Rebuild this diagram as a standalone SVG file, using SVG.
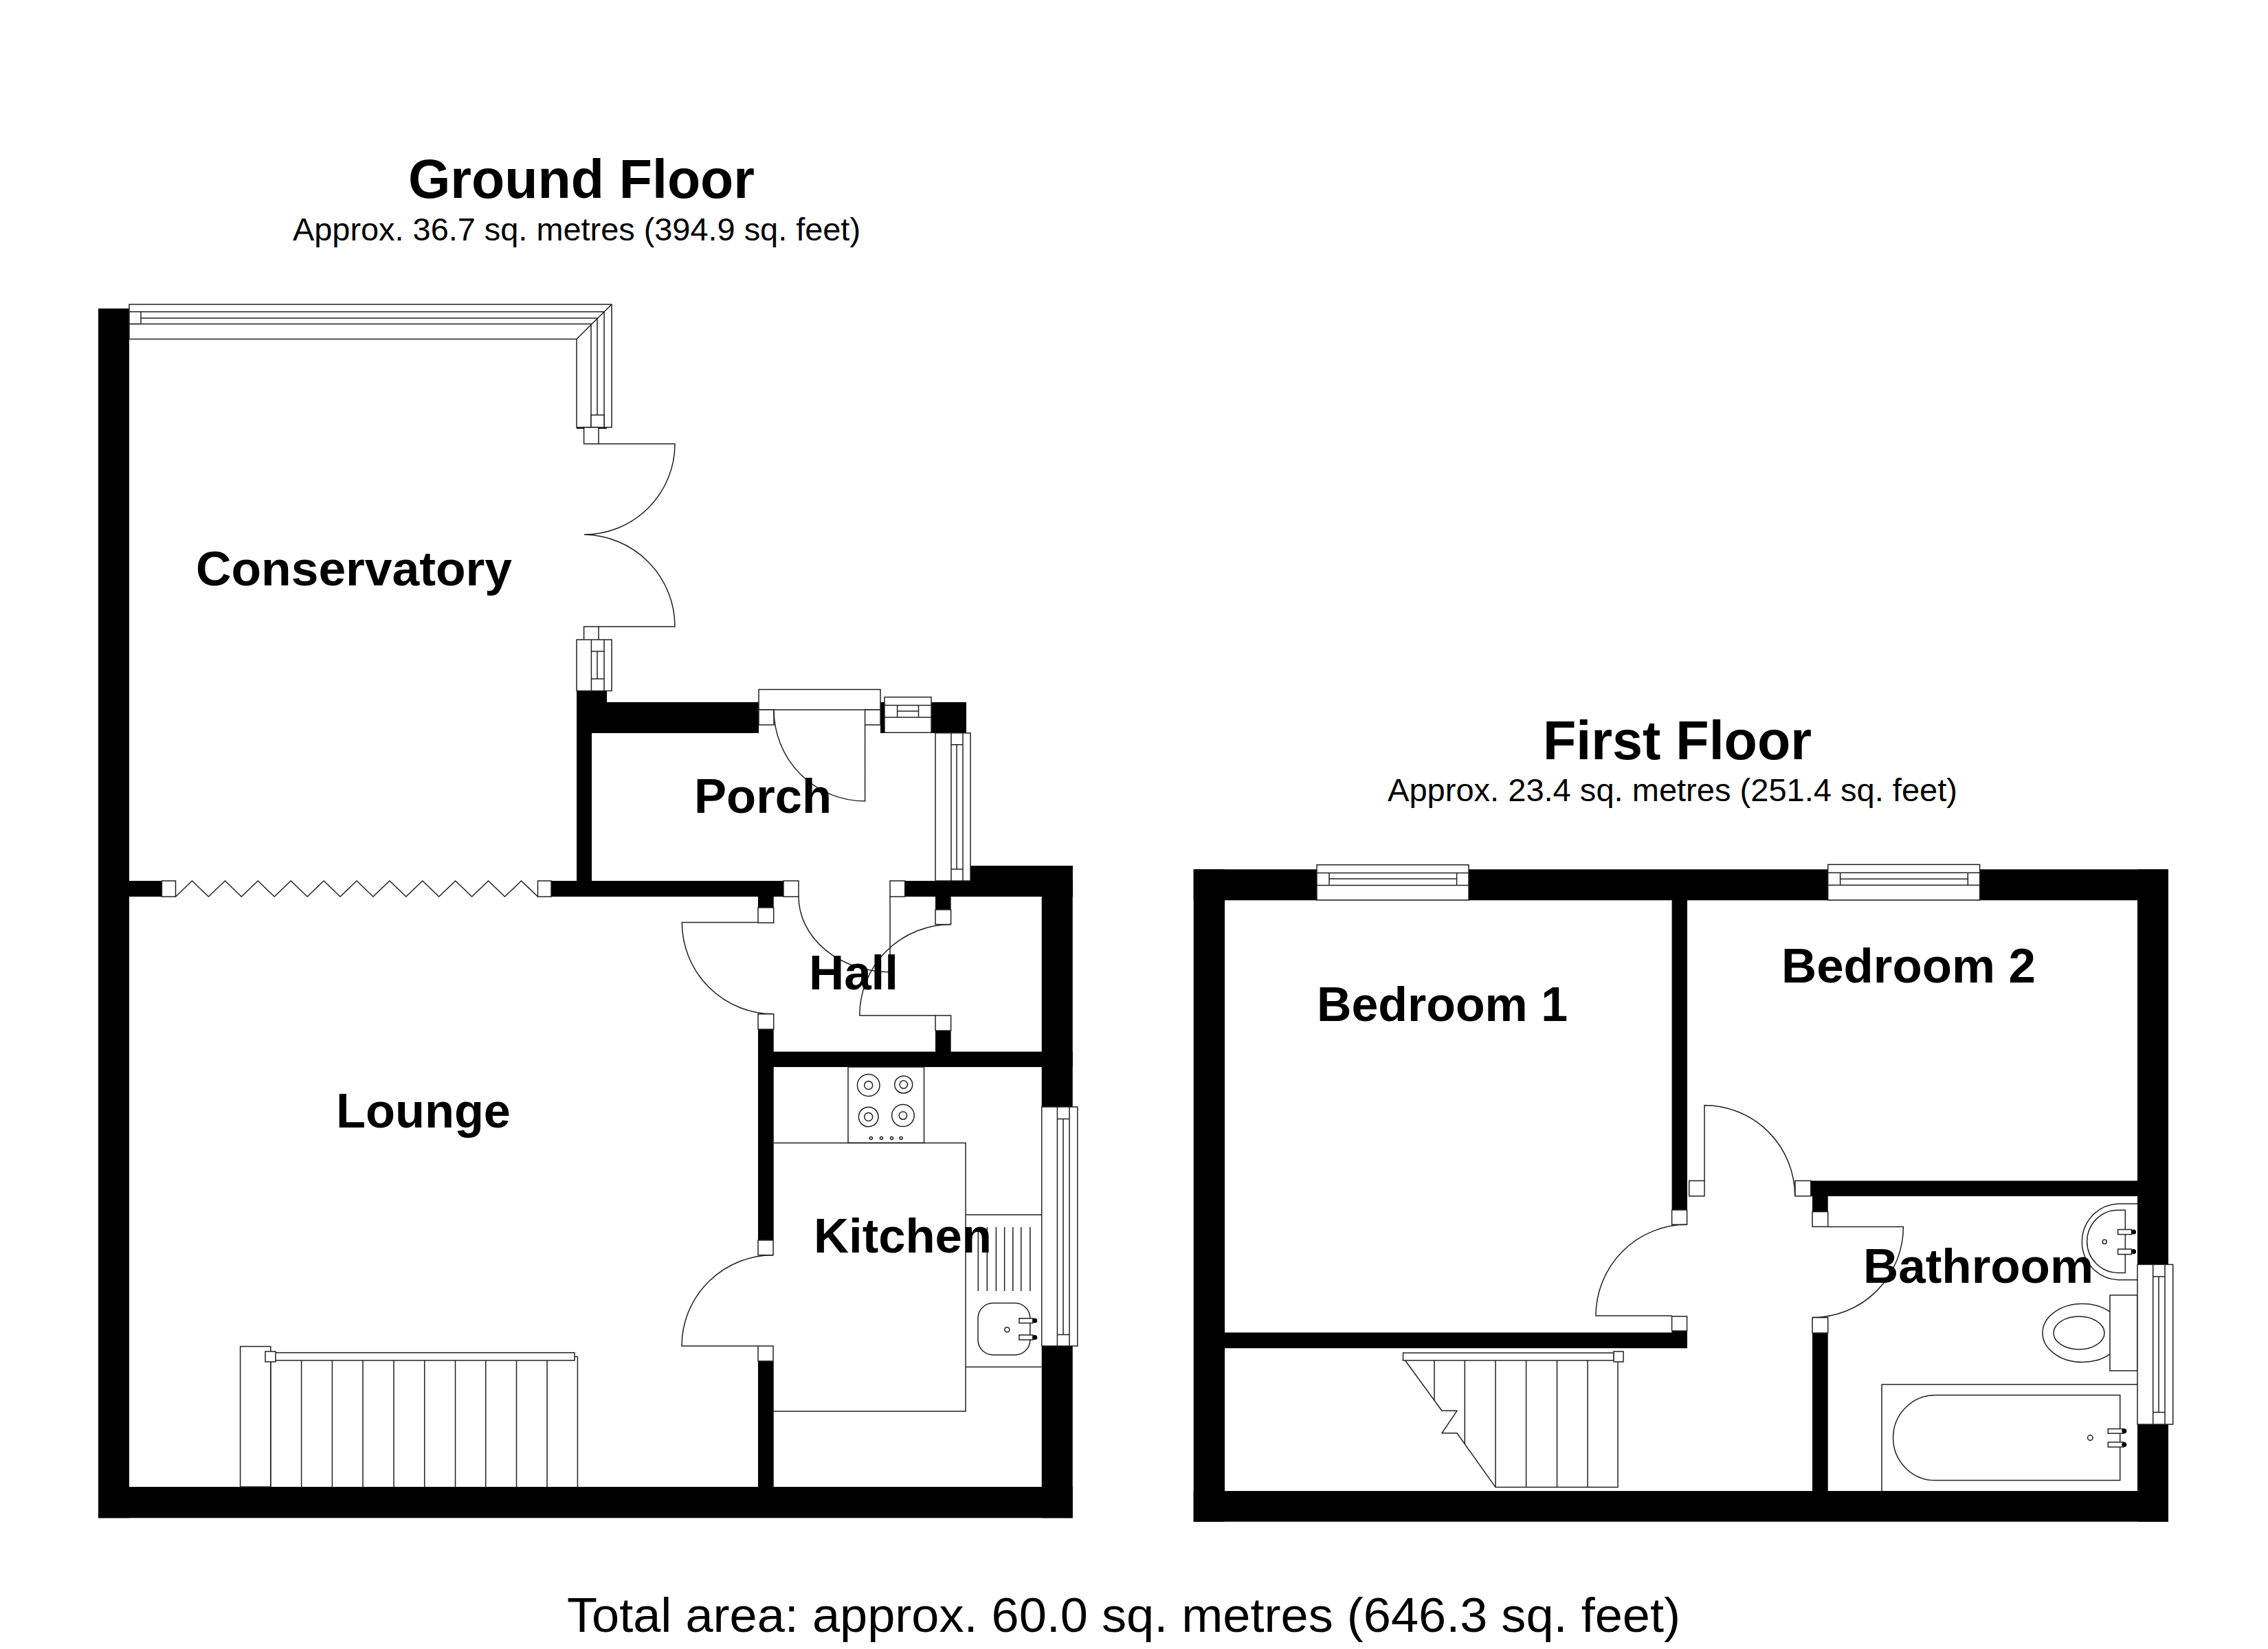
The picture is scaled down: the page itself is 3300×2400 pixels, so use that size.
<svg xmlns="http://www.w3.org/2000/svg" width="3300" height="2400" viewBox="0 0 3300 2400">
<style>
.w{fill:#000}
.l{fill:none;stroke:#222;stroke-width:1.5}
.f{fill:#fff;stroke:#222;stroke-width:1.5}
.d{fill:#000}
text{fill:#000;font-family:"Liberation Sans",Arial,sans-serif}
.r{font-size:70px;font-weight:700}
.t{font-size:79px;font-weight:700}
.s{font-size:46px}
.a{font-size:70px}
</style>
<rect width="3300" height="2400" fill="#fff"/>
<g id="ground-walls">
<rect class="w" x="143" y="449" width="45" height="1760.3"/>
<rect class="w" x="143" y="2164" width="1417.7" height="45.3"/>
<rect class="w" x="188" y="1282" width="47.4" height="23"/>
<rect class="w" x="802" y="1282" width="338" height="23"/>
<rect class="w" x="1316.6" y="1282" width="244.1" height="23"/>
<rect class="w" x="1412" y="1260" width="148.7" height="45"/>
<rect class="w" x="1515.7" y="1260" width="45" height="351"/>
<rect class="w" x="1515.7" y="1959" width="45" height="250.3"/>
<rect class="w" x="839" y="1005" width="22" height="300"/>
<rect class="w" x="839" y="1005" width="44" height="20"/>
<rect class="w" x="839" y="622" width="44" height="2"/>
<rect class="w" x="839" y="1022" width="265" height="45"/>
<rect class="w" x="1281" y="1022" width="6" height="45"/>
<rect class="w" x="1355" y="1022" width="51" height="45"/>
<rect class="w" x="1103" y="1305" width="22.7" height="16"/>
<rect class="w" x="1361" y="1305" width="22.6" height="19"/>
<rect class="w" x="1361" y="1500" width="22.6" height="31"/>
<rect class="w" x="1103" y="1530.6" width="457.7" height="22.4"/>
<rect class="w" x="1103" y="1498" width="22.7" height="307"/>
<rect class="w" x="1103" y="1981" width="22.7" height="183"/>
</g>
<g id="conservatory">
<path class="f" d="M188,443H890V622H839V493.5H188Z"/>
<path class="l" d="M890,443L839,493.5M188,453.7H879V622M188,463H869V604M188,471.4H860V622"/>
<rect class="f" x="188" y="453.7" width="17" height="17.7"/>
<rect class="f" x="860" y="604" width="19" height="18"/>
<rect class="f" x="849.6" y="622" width="21.4" height="24"/>
<path class="l" d="M871,646H982A132,132 0 0 1 850,778A134,134 0 0 1 982,912H871"/>
<rect class="f" x="849.6" y="912" width="21.4" height="21"/>
<rect class="f" x="839" y="931" width="51" height="74.5"/>
<path class="l" d="M860.4,931V1005.5M879,931V1005.5M860.4,948H879M860.4,988H879M869,948V988"/>
<rect class="f" x="235.4" y="1282" width="20.1" height="23"/>
<rect class="f" x="782.5" y="1282" width="19.5" height="23"/>
<path class="l" d="M255.5,1305L279.5,1282L303.4,1305L327.4,1282L351.3,1305L375.3,1282L399.2,1305L423.2,1282L447.1,1305L471.1,1282L495,1305L519,1282L542.9,1305L566.9,1282L590.8,1305L614.8,1282L638.7,1305L662.7,1282L686.6,1305L710.6,1282L734.5,1305L758.5,1282L782.5,1305"/>
<text class="r" x="285" y="852" textLength="460" lengthAdjust="spacingAndGlyphs">Conservatory</text>
</g>
<g id="porch">
<rect class="f" x="1104" y="1003.5" width="177" height="29.5"/>
<rect class="f" x="1104" y="1033" width="22" height="22"/>
<rect class="f" x="1258.6" y="1033" width="22.4" height="22"/>
<path class="l" d="M1126,1033A132.6,133 0 0 0 1258.6,1166V1055"/>
<rect class="f" x="1287" y="1014.6" width="68" height="51.6"/>
<path class="l" d="M1287,1026.4H1355M1287,1044H1355M1305.6,1026.4V1044M1336.5,1026.4V1044M1305.6,1035H1336.5"/>
<rect class="f" x="1361" y="1066.8" width="51" height="215.2"/>
<path class="l" d="M1384,1066.8V1282M1401,1066.8V1282M1392,1083.8V1265M1384,1083.8H1401M1384,1265H1401"/>
<text class="r" x="1010" y="1183" textLength="200" lengthAdjust="spacingAndGlyphs">Porch</text>
</g>
<g id="hall">
<rect class="f" x="1140" y="1282" width="22" height="23"/>
<rect class="f" x="1295" y="1282" width="21.6" height="23"/>
<path class="l" d="M1162,1305A133,110 0 0 0 1295,1414.7V1305"/>
<rect class="f" x="1103" y="1321" width="22.7" height="22"/>
<path class="l" d="M1103,1342.4H992.3A133.4,133.4 0 0 0 1125.7,1475.8"/>
<rect class="f" x="1103" y="1475.8" width="22.7" height="22.2"/>
<rect class="f" x="1361" y="1324" width="22.6" height="21.5"/>
<path class="l" d="M1383.6,1345.5A132.9,132.5 0 0 0 1250.7,1478H1361"/>
<rect class="f" x="1361" y="1478" width="22.6" height="22"/>
<text class="r" x="1177" y="1440" textLength="130" lengthAdjust="spacingAndGlyphs">Hall</text>
</g>
<g id="lounge">
<rect class="f" x="349.6" y="1959.6" width="44.2" height="204.4"/>
<path class="l" d="M393.8,1980V2164M438.6,1980V2164M483.4,1980V2164M528,1980V2164M573,1980V2164M617.7,1980V2164M662.5,1980V2164M706.7,1980V2164M751.5,1980V2164M796,1980V2164M840.4,1974.5V2164M836,1974.5H840.4"/>
<rect class="f" x="393.8" y="1968.7" width="442.2" height="11.3"/>
<rect class="f" x="386" y="1967" width="15" height="15"/>
<text class="r" x="489" y="1640.5" textLength="254" lengthAdjust="spacingAndGlyphs">Lounge</text>
</g>
<g id="kitchen">
<rect class="f" x="1103" y="1805" width="22" height="21.7"/>
<path class="l" d="M1125,1826.7A133,132.3 0 0 0 992,1959H1103"/>
<rect class="f" x="1103" y="1959" width="22" height="22"/>
<path class="l" d="M1125.7,1663.4H1405V2054H1125.7"/>
<rect class="l" x="1234" y="1553" width="110.5" height="110.4"/>
<ellipse class="l" cx="1263.7" cy="1579.5" rx="16.3" ry="16"/>
<circle class="l" cx="1263.7" cy="1579.5" r="6"/>
<ellipse class="l" cx="1314.7" cy="1578.5" rx="13" ry="12.6"/>
<circle class="l" cx="1314.7" cy="1578.5" r="5.7"/>
<circle class="l" cx="1263.7" cy="1625.5" r="14.3"/>
<circle class="l" cx="1263.7" cy="1625.5" r="6"/>
<ellipse class="l" cx="1313.9" cy="1623.6" rx="16.3" ry="16"/>
<circle class="l" cx="1313.9" cy="1623.6" r="5.7"/>
<circle class="l" cx="1267.3" cy="1656.6" r="2"/>
<circle class="l" cx="1282.4" cy="1656.6" r="2"/>
<circle class="l" cx="1297.5" cy="1656.6" r="2"/>
<circle class="l" cx="1311" cy="1656.6" r="2"/>
<path class="l" d="M1405,1768H1515.7M1405,1989.6H1515.7M1423.3,1786V1879M1436.3,1786V1879M1449.4,1786V1879M1461.6,1786V1879M1473.8,1786V1879M1485.7,1786V1879M1498.8,1786V1879"/>
<rect class="l" x="1423" y="1896.5" width="75.8" height="75.5" rx="22" ry="22"/>
<circle class="l" cx="1465.3" cy="1935.3" r="3.5"/>
<rect class="f" x="1482.9" y="1918.8" width="20" height="6.8"/>
<rect class="f" x="1482.9" y="1943" width="20" height="7"/>
<circle class="d" cx="1505.7" cy="1922" r="3.5"/>
<circle class="d" cx="1505.7" cy="1946.4" r="3.5"/>
<rect class="f" x="1515.7" y="1611" width="52.1" height="348"/>
<path class="l" d="M1538.4,1611V1959M1556,1611V1959M1547,1628.5V1942.6M1538.4,1628.5H1556M1538.4,1942.6H1556"/>
<text class="r" x="1184" y="1823.3" textLength="259" lengthAdjust="spacingAndGlyphs">Kitchen</text>
</g>
<g id="first-walls">
<rect class="w" x="1736.7" y="1265.3" width="45.3" height="949.4"/>
<rect class="w" x="1736.7" y="1265.3" width="1418.3" height="45"/>
<rect class="w" x="3110" y="1265.3" width="45" height="949.4"/>
<rect class="w" x="1736.7" y="2170" width="1418.3" height="44.7"/>
<rect class="w" x="2432.6" y="1310" width="22.4" height="451"/>
<rect class="w" x="1782" y="1939.4" width="673" height="22.8"/>
<rect class="w" x="2432.6" y="1936" width="22.4" height="26"/>
<rect class="w" x="2634.7" y="1718.5" width="475.3" height="22.5"/>
<rect class="w" x="2637" y="1741" width="22.7" height="23"/>
<rect class="w" x="2637" y="1940" width="22.7" height="230"/>
</g>
<g id="bedroom-1">
<rect class="f" x="1916" y="1258.7" width="221" height="51.3"/>
<path class="l" d="M1916,1270.5H2137M1916,1288.6H2137M1934,1279H2119.6M1934,1270.5V1288.6M2119.6,1270.5V1288.6"/>
<rect class="f" x="2432.6" y="1761" width="22" height="21.3"/>
<path class="l" d="M2454.6,1782.3A132.6,132.7 0 0 0 2322,1915H2432.6"/>
<rect class="f" x="2432.6" y="1915.8" width="22" height="21.2"/>
<text class="r" x="1916" y="1485.5" textLength="365" lengthAdjust="spacingAndGlyphs">Bedroom 1</text>
</g>
<g id="bedroom-2">
<rect class="f" x="2659.7" y="1258.3" width="220.9" height="51.7"/>
<path class="l" d="M2659.7,1270.3H2880.6M2659.7,1288.3H2880.6M2677.6,1279.3H2863.3M2677.6,1270.3V1288.3M2863.3,1270.3V1288.3"/>
<rect class="f" x="2457.7" y="1718.5" width="22.3" height="22.3"/>
<path class="l" d="M2480,1718.5V1608.7A131.7,132.1 0 0 1 2611.7,1740.8"/>
<rect class="f" x="2612" y="1718.5" width="22.7" height="22.3"/>
<text class="r" x="2592" y="1430.2" textLength="370" lengthAdjust="spacingAndGlyphs">Bedroom 2</text>
</g>
<g id="stairs">
<path class="l" d="M2044.6,1980L2098,2053.3H2120L2098,2085.8H2120L2176,2164.6H2354V1980M2087,1980V2039M2131.3,1980V2102M2176,1980V2164.6M2220.6,1980V2164.6M2265.5,1980V2164.6M2310,1980V2164.6"/>
<rect class="f" x="2041.5" y="1969" width="306.5" height="11"/>
<rect class="f" x="2348" y="1967" width="14" height="15"/>
</g>
<g id="bathroom">
<rect class="f" x="2637" y="1763.6" width="22.7" height="21.8"/>
<path class="l" d="M2659.7,1785.4H2769.4A132.4,132.2 0 0 1 2637,1917.6"/>
<rect class="f" x="2637" y="1917.6" width="22.7" height="22.4"/>
<path class="l" d="M3110,1752H3082A55,55.4 0 0 0 3082,1862.7H3110"/>
<path class="l" d="M3092.3,1761.3H3082A45.3,45.5 0 0 0 3082,1852.4H3092.3Z"/>
<rect class="f" x="3081.6" y="1789.5" width="19.9" height="7.1"/>
<rect class="f" x="3081.6" y="1818" width="19.9" height="7.6"/>
<circle class="d" cx="3104.6" cy="1793" r="3.5"/>
<circle class="d" cx="3104.6" cy="1821.6" r="3.5"/>
<circle class="l" cx="3062.2" cy="1807.3" r="3"/>
<ellipse class="l" cx="3030" cy="1940" rx="58" ry="42.5"/>
<ellipse class="l" cx="3025" cy="1940" rx="37" ry="24"/>
<rect class="f" x="3070" y="1885" width="40" height="110"/>
<path class="l" d="M2738,2170V2015H3110"/>
<path class="l" d="M3084.7,2030.5H2816A61.4,62 0 0 0 2816,2154.6H3084.7Z"/>
<rect class="f" x="3067.3" y="2079.6" width="22.7" height="6.6"/>
<rect class="f" x="3067.3" y="2099" width="22.7" height="7"/>
<circle class="d" cx="3090.8" cy="2082.8" r="3.5"/>
<circle class="d" cx="3090.8" cy="2102.4" r="3.5"/>
<circle class="l" cx="3041.3" cy="2092.6" r="3.8"/>
<rect class="f" x="3110" y="1840.4" width="51.7" height="232.6"/>
<path class="l" d="M3132.7,1840.4V2073M3150,1840.4V2073M3141,1858V2055.5M3132.7,1858H3150M3132.7,2055.5H3150"/>
<text class="r" x="2711" y="1866.5" textLength="335" lengthAdjust="spacingAndGlyphs">Bathroom</text>
</g>
<g id="titles">
<text class="t" x="594" y="288" textLength="504" lengthAdjust="spacingAndGlyphs">Ground Floor</text>
<text class="s" x="426" y="350" textLength="826" lengthAdjust="spacingAndGlyphs">Approx. 36.7 sq. metres (394.9 sq. feet)</text>
<text class="t" x="2245" y="1104.5" textLength="391" lengthAdjust="spacingAndGlyphs">First Floor</text>
<text class="s" x="2019" y="1166" textLength="829" lengthAdjust="spacingAndGlyphs">Approx. 23.4 sq. metres (251.4 sq. feet)</text>
<text class="a" x="825" y="2374.5" textLength="1620" lengthAdjust="spacingAndGlyphs">Total area: approx. 60.0 sq. metres (646.3 sq. feet)</text>
</g>
</svg>
